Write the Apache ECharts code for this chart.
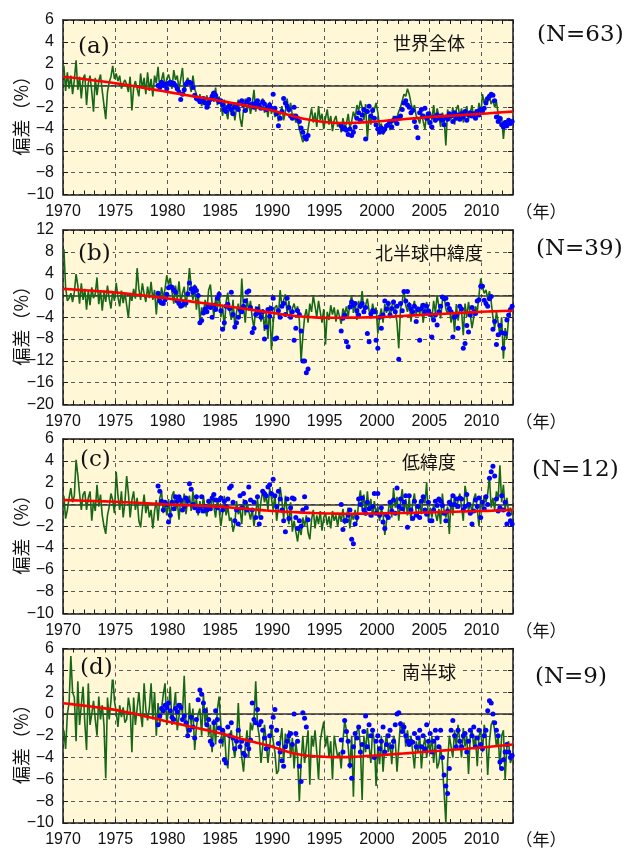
<!DOCTYPE html>
<html>
<head>
<meta charset="utf-8">
<script src="https://cdn.jsdelivr.net/npm/echarts@6/dist/echarts.min.js"></script>
<style>html,body{margin:0;padding:0;background:#fff}#chart{width:625px;height:848px}</style>
</head>
<body>
<div id="chart"></div>
<script>
// ---------------- data ----------------
const xTickLabels = [1970, 1975, 1980, 1985, 1990, 1995, 2000, 2005, 2010];
const panelLetters = ['(a)', '(b)', '(c)', '(d)'];
const regionNames = ['世界全体', '北半球中緯度', '低緯度', '南半球'];
const stationCounts = ['(N=63)', '(N=39)', '(N=12)', '(N=9)'];
const yMinList = [-10, -20, -10, -10];
const yMaxList = [6, 12, 6, 6];
const yStepList = [2, 4, 2, 2];
const groundStartYear = 1970;   // green: ground-based, 6 values per year
const satStartYear = 1979;      // blue: satellite, 6 values per year
const trendStartYear = 1970;    // red: yearly trend

const greenA = [
1.8,-0.5,1.2,-0.3,0.9,-0.8, 0.5,2.3,-0.4,0.8,-1.2,0.6, 1.0,-1.8,0.2,0.9,-0.6,-2.4, 0.7,-0.9,0.4,1.0,-0.5,-1.8,
-3.1,-0.6,0.3,0.8,1.8,0.6, 1.1,0.4,0.9,-0.3,0.2,0.5, 0.1,-0.6,0.8,-2.3,-0.2,0.4, 0.3,-1.0,1.1,-0.3,0.7,-0.8,
1.2,-0.5,0.6,-1.0,0.9,0.2, 1.7,-0.4,0.5,1.2,-0.2,0.6, 1.0,0.4,-0.3,1.4,0.5,0.9, -0.4,0.6,1.6,-0.8,0.3,0.7,
0.2,-0.6,0.9,-0.3,-0.8,-1.4, -0.8,-1.9,-1.2,-1.6,-0.9,-2.1, -1.2,-0.6,-1.5,-0.2,-1.8,-1.0, -1.6,-2.8,-1.3,-2.4,-3.1,-1.5,
-2.7,-1.6,-3.2,-2.0,-1.3,-3.0, -3.8,-2.2,-1.2,-2.4,-1.5,-2.6, -1.7,-0.4,-2.4,-1.3,-2.2,-1.6, -1.2,-2.5,-1.8,-2.9,-1.5,-2.6,
-2.0,-2.9,-2.3,-3.3,-2.6,-1.9, -3.2,-2.4,-1.2,-2.5,-1.6,-2.8, -2.6,-3.4,-3.1,-4.0,-4.6,-5.2, -4.8,-5.1,-4.0,-3.0,-2.1,-3.4,
-2.5,-3.8,-1.9,-3.2,-2.6,-4.0, -3.0,-2.2,-3.6,-2.8,-4.2,-3.2, -2.8,-3.8,-3.4,-4.3,-3.0,-3.9, -3.5,-2.6,-3.9,-3.3,-2.4,-3.0,
-1.8,-2.3,-1.4,-2.0,-3.2,-1.7, -5.0,-2.7,-3.6,-2.0,-2.2,-1.6, -2.5,-3.8,-3.5,-4.5,-4.2,-3.8, -3.2,-4.1,-3.5,-2.8,-3.6,-2.9,
-2.4,-2.0,-1.4,-0.8,-1.0,-0.3, -0.8,-1.6,-2.3,-1.8,-2.8,-3.0, -3.5,-2.4,-3.3,-4.0,-2.5,-3.6, -2.4,-3.2,-1.8,-3.4,-2.1,-2.8,
-3.8,-2.5,-3.0,-5.5,-2.2,-3.2, -3.0,-2.0,-3.6,-2.2,-1.8,-2.9, -2.1,-3.4,-2.6,-1.9,-3.1,-2.5, -1.8,-3.0,-2.2,-2.9,-1.6,-2.7,
-0.8,-1.6,-1.1,-1.5,-1.0,-1.7, -1.3,-2.0,-1.5,-2.6,-3.4,-2.9, -4.9,-3.2,-3.9,-3.0,-3.6,-3.3
];
const blueA = [
0.0,-0.2,0.3,0.0,0.1,-0.3, 0.2,0.3,0.1,0.2,0.0,-0.3, -0.6,-1.3,-0.8,-0.4,0.1,0.3, 0.3,0.2,-0.2,-0.9,-1.2,-1.3,
-1.5,-1.4,-1.2,-1.6,-2.0,-1.6, -1.3,-1.0,-0.7,-0.9,-1.3,-1.5, -1.4,-1.8,-2.2,-2.4,-2.0,-1.8, -2.2,-2.6,-2.0,-1.8,-2.2,-1.6,
-1.4,-1.8,-2.3,-1.5,-1.3,-1.8, -1.7,-2.0,-1.6,-1.4,-1.8,-2.1, -1.5,-1.7,-2.2,-2.0,-1.8,-2.1, -0.8,-2.1,-2.6,-3.7,-3.0,-2.4,
-1.2,-1.6,-1.9,-2.2,-2.8,-3.0, -2.0,-2.8,-3.0,-3.3,-3.9,-4.3, -4.7,-4.9,-4.6,null,null,null,
null,null,null,null,null,null, null,null,null,null,null,null, null,null,null,-3.7,-4.0,-3.9,
-4.1,-4.5,-4.0,-4.6,-4.3,-3.8, -3.0,-2.5,-3.2,-2.7,-2.2,-4.9, -2.4,-1.9,-2.8,-2.3,-3.0,-3.6, -4.0,-4.3,-3.9,-4.2,-4.0,-3.7,
-3.6,-3.3,-3.8,-3.2,-3.0,-3.5, -3.0,-2.8,-2.2,-1.6,-1.4,-1.8, -2.0,-2.5,-2.3,-3.3,-3.8,-4.8, -2.5,-2.2,-2.8,-2.1,-3.0,-2.6,
-3.4,-3.8,-2.9,-3.2,-2.7,-3.0, -2.8,-3.2,-3.6,-2.9,-3.1,-2.6, -2.8,-3.3,-2.5,-3.0,-2.7,-3.1, -2.6,-2.9,-2.4,-3.2,-2.7,-2.5,
-2.8,-2.6,-3.0,-2.4,-2.7,-2.2, -2.4,-2.1,-1.6,-1.2,-1.0,-0.8, -0.9,-1.4,-2.9,-3.3,-3.0,-3.6, -3.8,-3.4,-3.7,-3.2,-3.5,-3.3
];
const trendA = [0.80,0.70,0.58,0.46,0.34,0.20,0.05,-0.10,-0.27,-0.43,-0.60,-0.76,-0.92,-1.08,-1.24,-1.40,-1.58,-1.76,-1.94,-2.12,
-2.30,-2.56,-2.82,-3.05,-3.22,-3.35,-3.43,-3.45,-3.42,-3.36,-3.30,-3.22,-3.14,-3.06,-2.98,-2.90,-2.84,-2.78,-2.72,-2.66,-2.60,-2.53,-2.46,-2.40];

const greenB = [
8.5,1.5,-1.0,-0.5,0.4,-1.2, 0.6,3.9,1.8,-1.5,2.2,-0.8, 1.2,-2.6,0.9,-1.8,1.5,-0.5, 0.3,3.3,-1.6,1.0,-2.8,0.6,
-1.2,1.8,-0.6,-2.4,0.8,-1.0, 2.3,-0.3,-2.0,0.9,-1.4,0.5, -1.8,-4.1,0.2,-1.0,1.2,-0.6, 5.0,1.2,-0.8,2.2,0.3,-1.2,
1.6,-0.5,2.5,-0.8,1.0,-3.5, 0.8,-1.6,1.5,-0.4,1.2,3.7, 2.0,3.2,0.6,-1.5,1.8,-0.6, 2.6,-1.2,0.4,1.6,-2.2,1.0,
5.0,1.5,-0.8,2.0,-2.6,0.5, -4.8,-2.2,-3.5,-0.8,-2.8,1.0, 2.0,-1.5,-3.8,-0.6,-2.4,0.8, -4.0,-2.0,-6.0,-1.2,0.5,-2.8,
-4.5,-0.8,-5.8,-3.0,-1.5,-4.2, 3.1,-2.2,-5.0,-0.5,-2.8,-1.0, -4.2,-6.0,-2.0,-3.5,-1.6,-4.8, -2.5,-6.5,-3.0,-8.0,-1.8,-10.0,
-5.0,-2.2,-1.8,-3.8,1.0,-2.0, -2.0,0.2,-3.5,-1.0,-4.2,-2.4, -1.5,-3.0,-2.0,-4.5,-12.0,-7.5, -4.0,-2.5,-5.0,-1.5,-3.0,0.0,
-2.0,-4.0,-1.0,-3.0,-5.0,-2.5, -9.0,-3.0,-4.5,-1.8,-3.5,-2.2, -4.8,-2.6,-3.8,-5.2,-2.4,-3.4, -2.0,-4.0,-1.5,0.0,-3.2,-1.2,
-4.5,-1.0,-2.5,0.8,-3.0,-1.8, -0.6,-2.8,-4.2,-1.5,-3.0,-2.2, -7.0,-4.0,-2.4,-5.0,-1.6,-3.2, -1.0,-4.2,-2.0,-0.8,-2.8,-5.0,
-9.7,-2.5,-1.0,0.8,-1.8,-3.0, -1.2,-4.8,-2.2,-1.0,-3.6,-2.0, -3.5,-1.5,-5.0,-2.4,-1.2,-3.8, -2.6,-4.5,-1.0,-3.2,0.0,-2.0,
-4.2,-1.0,0.0,-2.5,-3.4,-2.0, -5.0,-3.0,-6.7,-1.6,-4.6,-2.4, -2.8,-7.3,-1.5,-4.0,-1.2,-3.5, -6.0,-4.0,-2.0,-3.0,0.0,3.1,
1.5,0.4,1.0,-0.6,0.8,-1.2, -4.0,-6.0,-3.0,-5.0,-7.5,-4.0, -11.6,-6.0,-8.0,-4.0,-3.0,-2.0
];
const blueB = [
0.4,-1.0,-1.4,-1.5,-0.8,0.2, 1.4,1.6,1.5,1.0,0.6,-1.0, -1.5,-2.0,-1.8,-1.2,-1.4,0.3, 2.3,1.2,0.6,1.4,0.9,0.0,
-5.0,-4.6,-3.2,-2.5,-3.0,-2.0, -2.2,-4.0,-1.8,-2.6,-0.5,0.2, -2.8,-6.2,-5.0,-2.0,-1.6,-2.4, 0.6,-3.5,-5.8,-5.0,-4.0,-2.6,
-3.0,-2.0,-1.0,0.6,0.8,-2.2, -6.8,-6.0,-3.5,-2.5,-3.2,-4.0, -3.0,-8.0,-5.8,-2.6,-3.8,-2.4, -0.5,-8.0,-7.8,-2.8,-4.0,-2.0,
-1.5,-3.5,-0.5,-2.2,-4.0,-3.0, -8.2,-6.0,-2.8,-3.5,-6.5,-12.0, -12.0,-14.2,-13.5,null,null,null,
null,null,null,null,null,null, null,null,null,null,null,null, null,null,null,-6.5,-4.2,-3.6,
-8.5,-9.4,-2.1,-1.2,-1.8,-1.5, -2.8,-3.6,-2.0,-1.5,-3.0,-2.2, -7.0,-8.5,-3.4,-2.8,-3.0,-8.2, -9.7,-4.0,-6.0,-3.6,-1.0,-2.5,
-1.5,-3.6,-2.4,-1.2,-3.0,-2.0, -11.7,-1.5,-2.8,0.7,-1.0,0.7, -1.8,-2.5,-3.0,-2.0,-4.8,-2.6, -8.2,-2.4,-1.8,-3.0,-2.0,-2.8,
-3.5,-7.6,-4.5,-3.6,-5.4,-3.0, -2.0,-0.3,-0.6,-0.5,-1.6,-2.4, -3.0,-7.6,-4.0,-3.6,-6.0,-2.0, -2.5,-9.7,-8.8,-5.5,-6.7,-3.6,
-2.2,-3.0,-3.3,-1.0,-0.8,1.7, 1.7,-0.9,-1.5,-2.0,-0.6,-0.2, -6.2,-4.8,-9.0,-7.2,-5.5,-6.8, -9.7,-7.0,-4.5,-3.6,-2.6,-2.0
];
const trendB = [1.20,1.08,0.96,0.83,0.70,0.55,0.35,0.14,-0.08,-0.31,-0.55,-0.80,-1.05,-1.30,-1.55,-1.80,-2.08,-2.36,-2.64,-2.92,
-3.20,-3.48,-3.72,-3.90,-4.02,-4.08,-4.10,-4.09,-4.06,-4.03,-4.00,-3.91,-3.81,-3.71,-3.61,-3.50,-3.40,-3.30,-3.20,-3.10,-3.00,-2.93,-2.86,-2.80];

const greenC = [
0.8,-1.3,-0.5,0.6,1.5,0.2, 0.8,4.1,2.7,1.0,-0.5,0.9, 1.2,-0.5,0.6,1.2,-1.5,0.3, -0.6,1.8,-0.2,0.9,-1.0,-2.0,
-2.7,-1.0,-0.2,1.0,0.4,-0.8, 3.0,0.8,-0.5,1.2,-1.2,0.2, 2.6,1.0,-1.2,0.4,1.2,-0.5, 0.6,-1.5,-2.1,-0.4,0.9,-0.8,
0.2,-1.2,-0.5,-2.2,-0.6,0.4, -1.5,0.6,1.2,-0.8,0.3,-1.0, 0.5,-1.5,0.8,1.2,-0.6,0.3, -1.4,0.6,-0.2,1.0,-0.9,0.4,
0.8,-0.6,1.2,-0.3,0.5,-1.0, 0.3,-0.8,0.8,-0.5,-1.1,0.4, -0.6,0.9,-0.2,-1.2,0.5,-0.4, -2.0,-0.8,0.8,-1.0,-0.2,-1.5,
-1.2,-2.5,-1.8,0.3,-0.9,-0.4, -1.8,0.5,-1.0,0.2,-0.6,-1.4, -0.4,-2.0,-0.8,0.5,-1.2,0.3, 1.3,0.2,0.8,-0.5,1.5,0.6,
-0.5,0.9,-1.5,-0.2,1.6,0.4, -1.3,0.8,-0.6,-1.8,0.2,-2.5, -1.5,-2.5,-3.4,-2.0,-2.8,-1.2, -2.0,-1.0,-2.6,-3.2,-1.4,-0.5,
-2.2,-1.0,-1.8,-0.6,-2.4,-1.2, -0.8,-1.9,-1.1,-2.2,-0.6,-1.5, -1.0,-2.0,-0.8,-1.6,-0.4,-1.8, -1.2,-0.3,-2.2,-0.9,-1.4,-0.5,
-1.6,0.2,1.3,-0.4,0.9,-1.0, 1.2,-0.6,0.5,-1.2,0.3,-0.8, -0.2,-1.5,-0.4,-0.9,-2.8,-1.5, -0.6,0.4,-1.2,1.5,-0.3,0.7,
-1.5,0.2,1.4,-0.8,0.5,-1.0, 0.6,-1.5,0.2,1.0,-0.7,-1.2, 0.3,-0.9,0.8,0.1,2.0,-1.5, -0.3,-1.2,0.0,-0.8,-1.5,-0.4,
-1.8,1.0,-0.6,-1.2,-0.2,-2.7, 0.6,-1.0,0.9,-0.4,0.3,1.0, -0.2,-1.5,1.7,0.8,-0.6,0.2, -0.8,0.5,1.0,-0.4,-2.0,0.6,
-0.5,0.8,0.2,1.0,2.5,-0.3, 0.6,-0.5,1.2,0.5,3.6,0.2, 1.8,-0.5,0.6,-0.8,-0.3,-1.0
];
const blueC = [
1.7,1.2,0.3,-0.5,0.2,0.0, -1.6,-1.0,0.2,-0.4,0.7,0.3, 0.7,0.4,-0.5,-0.2,0.6,0.3, 1.9,1.4,0.0,-0.3,0.7,-0.6,
-0.3,0.7,-0.6,-0.2,-0.5,0.3, -0.4,0.6,0.9,0.4,-0.3,0.4, 0.6,-0.5,0.3,-0.2,0.5,1.5, 1.7,0.2,-1.5,-0.5,-1.8,0.8,
-0.3,1.0,0.2,-0.5,1.6,0.4, -0.5,0.2,-1.2,0.7,-1.8,-1.2, 1.2,1.0,0.8,1.6,1.8,1.0, 2.3,0.8,-0.2,1.2,0.5,-0.5,
-1.5,-2.5,0.5,-1.3,-0.3,0.6, 0.5,-1.2,-2.2,-1.5,-2.0,-0.5, 0.7,-0.3,-1.4,null,null,null,
null,null,null,null,null,null, null,null,null,null,null,null, null,null,null,0.0,-2.3,-1.5,
-1.5,-1.0,-0.5,-3.2,-3.6,-1.8, -1.2,0.5,0.0,0.6,-0.5,-0.8, 0.2,-0.4,-1.0,-0.2,1.0,-0.8, 1.0,-1.0,-0.3,-1.6,-2.2,-1.0,
-1.2,0.2,-0.6,0.4,-0.8,1.5, -0.2,0.5,-0.4,0.2,0.8,-2.1, 0.8,-0.5,-1.3,0.3,-1.0,-0.2, -1.2,0.3,0.7,-0.5,-0.9,0.2,
-1.5,-1.5,-0.5,0.3,-0.1,0.5, 0.3,-0.1,-0.8,-1.5,-0.6,0.2, 0.0,0.8,0.0,0.5,-0.2,0.6, 0.5,-0.5,-0.2,0.9,0.0,-0.8,
-1.8,-0.6,0.4,-0.2,0.6,-1.2, 0.2,-0.4,0.7,0.0,2.4,3.0, 3.5,2.6,0.5,-0.6,-0.3,0.8, -0.5,0.2,-1.8,-0.9,-1.5,-1.8
];
const trendC = [0.40,0.37,0.34,0.31,0.28,0.25,0.20,0.15,0.10,0.05,0.00,-0.04,-0.08,-0.12,-0.16,-0.20,-0.28,-0.36,-0.44,-0.52,
-0.60,-0.66,-0.70,-0.75,-0.79,-0.82,-0.84,-0.85,-0.85,-0.84,-0.83,-0.81,-0.79,-0.77,-0.75,-0.73,-0.70,-0.68,-0.65,-0.63,-0.60,-0.57,-0.53,-0.50];

const greenD = [
-1.5,-3.2,0.0,1.0,5.3,2.0, 1.5,-2.5,3.0,-1.0,0.8,2.5, -0.8,-3.3,2.8,-1.0,0.0,1.2, -0.5,-2.0,1.6,-0.5,0.8,-1.0,
-5.9,1.5,-0.5,1.2,3.6,1.2, 0.2,-1.2,0.8,-0.3,0.6,-0.8, -0.5,1.5,0.5,-3.5,1.5,-1.0, 0.5,2.0,0.0,-1.2,2.8,0.4,
-0.6,0.5,2.8,-0.5,2.0,-2.0, 1.0,-1.0,0.5,1.8,2.8,-1.0, 0.5,2.5,-1.0,0.5,2.0,-1.5, -1.5,1.0,0.0,3.5,-1.0,-2.0,
1.0,-1.0,0.5,-3.3,-1.2,0.0, 0.5,-2.0,1.8,-1.0,0.6,-2.0, -1.0,-3.5,-0.5,-2.8,0.4,1.6, -1.0,-3.0,-1.5,-4.0,-5.0,-2.0,
-1.5,-3.0,-4.0,-2.5,1.0,-2.5, -4.0,-5.3,-3.0,-1.5,-4.0,-0.8, -1.5,-0.5,3.0,-1.0,-2.0,-4.5, -3.0,-1.0,-2.5,-4.5,-3.0,-1.2,
-2.5,-3.5,-5.5,-5.2,-2.5,-1.3, -4.5,-1.8,-3.0,-1.5,-4.0,-2.2, -5.0,-2.6,-4.0,-8.0,-4.5,-2.0, -4.5,-3.0,-1.5,-6.5,-2.0,-3.0,
-1.5,-3.5,-6.0,-2.5,-1.5,-0.7, -3.0,-2.0,-4.0,-2.5,-6.0,-2.0, -2.0,-4.0,-3.5,-5.0,-2.5,-0.6, -1.5,-3.0,-5.0,-2.0,-7.6,-2.0,
-2.0,-1.2,-3.0,-7.9,-2.0,-3.5, -1.3,-3.0,-4.5,-1.5,-2.5,-6.6, -3.0,-4.6,-2.0,-5.3,-3.0,-1.8, -3.5,-2.6,-4.6,-2.0,-2.5,-5.3,
-3.0,-0.7,-1.5,-0.8,-3.0,-1.5, -3.0,-2.0,-3.5,-5.0,-2.5,-3.5, -2.0,-5.0,-3.0,-2.2,-4.0,-2.5, -3.5,-2.0,-4.5,-2.5,-5.0,-4.5,
-3.0,-4.5,-4.5,-10.0,-4.5,-2.0, -2.0,-4.0,-1.5,-3.0,-1.0,-2.5, -4.0,-1.3,-3.0,-2.0,-5.5,-2.0, -1.5,-3.0,-2.0,-4.8,-2.0,-1.5,
-3.5,-1.0,-2.0,-5.6,-2.5,-1.0, -0.6,-1.5,-3.0,-2.0,-5.0,-2.0, -1.5,-6.0,-3.0,-2.5,-4.5,-4.0
];
const blueD = [
-1.0,-0.2,0.5,0.3,0.8,0.6, 1.0,0.3,-0.3,-0.5,0.5,0.2, 0.8,0.6,-0.5,-0.2,-0.8,-2.0, -1.5,-0.3,-1.2,-2.2,-0.5,1.3,
2.2,1.8,1.0,0.3,-1.0,-0.5, -2.5,-2.8,-0.8,0.3,-0.5,-1.3, -2.5,-1.5,-4.2,-4.5,-1.2,-2.0, -0.8,-2.2,-3.2,-2.5,-1.5,-3.0,
-2.5,-3.6,-3.8,-2.8,-3.2,-2.4, 1.0,-0.5,-0.8,0.4,-1.0,-0.7, -1.5,-2.2,-3.2,-3.0,-2.0,-1.2, -0.3,0.4,-1.5,-2.7,-3.5,-4.3,
-4.8,-3.0,-2.5,-2.0,-1.8,-2.8, 0.0,-1.8,-2.5,-4.8,-6.2,0.1, -0.4,-1.2,null,null,null,null,
null,null,null,null,null,null, null,null,null,null,null,null, null,null,null,-2.4,-3.5,-0.6,
-1.6,-2.5,-4.7,-5.9,-3.0,-1.8, -2.2,-1.2,-3.5,-2.8,-1.6,-0.2, -3.0,-1.0,-2.0,-1.5,-4.0,-2.5, -2.0,-3.2,-2.5,-1.2,-3.5,-2.8,
-2.0,-1.5,-3.0,-2.5,-1.0,0.0, 0.1,-0.9,-1.6,-1.2,-2.0,-2.5, -2.8,-2.5,-2.6,-1.8,-3.0,-2.2, -1.5,-3.0,-2.0,-3.2,-1.0,-2.5,
-1.8,-3.5,-2.5,-1.5,-2.2,-3.0, -1.5,-4.0,-5.6,-6.6,-7.3,-5.0, -1.5,-0.6,-2.0,-3.0,-1.5,-2.5, -3.0,-2.0,-1.8,-3.5,-2.5,-1.5,
-2.0,-1.2,-3.0,-2.2,-1.5,-2.8, -3.2,-2.0,-1.5,0.3,1.2,1.0, 0.0,-0.8,-1.5,-2.0,-4.4,-5.0, -4.2,-3.5,-2.8,-3.5,-4.0,-3.8
];
const trendD = [0.98,0.88,0.76,0.64,0.51,0.37,0.18,-0.03,-0.25,-0.47,-0.70,-0.91,-1.12,-1.33,-1.55,-1.77,-2.02,-2.27,-2.51,-2.76,
-3.00,-3.32,-3.60,-3.78,-3.88,-3.93,-3.96,-3.96,-3.92,-3.86,-3.80,-3.73,-3.66,-3.59,-3.52,-3.45,-3.38,-3.30,-3.23,-3.15,-3.08,-2.99,-2.90,-2.80];

const greens = [greenA, greenB, greenC, greenD];
const blues = [blueA, blueB, blueC, blueD];
const trends = [trendA, trendB, trendC, trendD];

// ---------------- layout & style ----------------
const PLOT_LEFT = 63, PLOT_W = 450, PLOT_H = 174.5;
const TOPS = [20, 230, 439, 648.5];
const LETTER_POS = [[76, 47.5], [76, 254], [78, 460], [78, 668]];
const N_POS = [[537, 35], [536, 249], [532, 470], [535, 677.5]];
const BG = '#fff7d5';
const GREEN = '#176717', BLUE = '#0000ff', RED = '#ff0000';
const AX = '#1a1a1a';
const GRIDC = '#5a5a5a';
const SANS = '"Liberation Sans", Arial, sans-serif';
const CJK = '"Noto Sans CJK JP", sans-serif';
const SERIF = '"DejaVu Serif", serif';

function sixPerYear(start, arr) {
  const out = [];
  arr.forEach((v, i) => { if (v !== null) out.push([start + (i + 0.5) / 6, v]); });
  return out;
}
function yearly(start, arr) { return arr.map((v, i) => [start + i, v]); }
const minusFmt = v => (v < 0 ? '\u2212' : '') + Math.abs(v);

const grid = [], xAxis = [], yAxis = [], series = [], graphic = [];
for (let p = 0; p < 4; p++) {
  grid.push({ left: PLOT_LEFT, top: TOPS[p], width: PLOT_W, height: PLOT_H, show: true,
              backgroundColor: BG, borderWidth: 0, containLabel: false });
  const baseX = { gridIndex: p, type: 'value', min: 1970, max: 2013 };
  xAxis.push(Object.assign({}, baseX, {
    position: 'bottom', interval: 1,
    axisLine: { show: true, onZero: false, lineStyle: { color: AX, width: 1.5 } },
    axisTick: { show: true, inside: true, length: 4, lineStyle: { color: AX, width: 1 } },
    axisLabel: { show: true, margin: 9, fontSize: 16, color: '#111', fontFamily: SANS,
                 formatter: v => xTickLabels.includes(v) ? String(v) : '' },
    splitLine: { show: false }
  }));
  xAxis.push(Object.assign({}, baseX, {
    position: 'top', interval: 1,
    axisLine: { show: true, onZero: false, lineStyle: { color: AX, width: 1.5 } },
    axisTick: { show: true, inside: true, length: 4, lineStyle: { color: AX, width: 1 } },
    axisLabel: { show: false }, splitLine: { show: false }
  }));
  xAxis.push(Object.assign({}, baseX, {
    position: 'bottom', interval: 5,
    axisLine: { show: false }, axisTick: { show: false }, axisLabel: { show: false },
    splitLine: { show: true, lineStyle: { color: GRIDC, type: [4, 4], width: 1 } }
  }));
  const baseY = { gridIndex: p, type: 'value', min: yMinList[p], max: yMaxList[p], interval: yStepList[p] };
  yAxis.push(Object.assign({}, baseY, {
    position: 'left',
    axisLine: { show: true, onZero: false, lineStyle: { color: AX, width: 1.5 } },
    axisTick: { show: true, inside: true, length: 5, lineStyle: { color: AX, width: 1 } },
    axisLabel: { show: true, margin: 9, fontSize: 16, color: '#111', fontFamily: SANS, formatter: minusFmt },
    splitLine: { show: true, lineStyle: { color: GRIDC, type: [4, 4], width: 1 } }
  }));
  yAxis.push(Object.assign({}, baseY, {
    position: 'right',
    axisLine: { show: true, onZero: false, lineStyle: { color: AX, width: 1.5 } },
    axisTick: { show: true, inside: true, length: 5, lineStyle: { color: AX, width: 1 } },
    axisLabel: { show: false }, splitLine: { show: false }
  }));

  series.push({
    type: 'line', xAxisIndex: p * 3, yAxisIndex: p * 2, data: sixPerYear(groundStartYear, greens[p]),
    showSymbol: false, lineStyle: { color: GREEN, width: 1.6 }, itemStyle: { color: GREEN }, z: 2,
    markLine: { silent: true, symbol: ['none', 'none'], label: { show: false }, z: 1,
                lineStyle: { color: '#333', type: 'solid', width: 1.5 }, data: [{ yAxis: 0 }] }
  });
  series.push({
    type: 'scatter', xAxisIndex: p * 3, yAxisIndex: p * 2, data: sixPerYear(satStartYear, blues[p]),
    symbolSize: 5, itemStyle: { color: BLUE, opacity: 1 }, z: 3
  });
  series.push({
    type: 'line', xAxisIndex: p * 3, yAxisIndex: p * 2, data: yearly(trendStartYear, trends[p]),
    smooth: true, showSymbol: false, lineStyle: { color: RED, width: 2.6 }, itemStyle: { color: RED }, z: 4
  });

  const top = TOPS[p], bottom = TOPS[p] + PLOT_H;
  graphic.push({ type: 'text', x: LETTER_POS[p][0], y: LETTER_POS[p][1], z: 100,
    style: { text: panelLetters[p], font: '23px ' + SERIF, fill: '#111', textAlign: 'left', textVerticalAlign: 'middle',
             backgroundColor: BG, padding: [0, 2] } });
  graphic.push({ type: 'text', x: 429, y: top + 23.5, z: 100,
    style: { text: regionNames[p], font: '18px ' + CJK, fill: '#111', textAlign: 'center', textVerticalAlign: 'middle',
             backgroundColor: BG, padding: [0, 3] } });
  graphic.push({ type: 'text', x: N_POS[p][0], y: N_POS[p][1], z: 100,
    style: { text: stationCounts[p], font: '23px ' + SERIF, fill: '#111', textAlign: 'left', textVerticalAlign: 'middle' } });
  graphic.push({ type: 'text', x: 541, y: bottom + 17, z: 100,
    style: { text: '（年）', font: '17px ' + CJK, fill: '#111', textAlign: 'center', textVerticalAlign: 'middle' } });
  graphic.push({ type: 'text', x: 21, y: (top + bottom) / 2 + 4, rotation: Math.PI / 2, z: 100,
    style: { text: '偏差（%）', font: '18px ' + CJK, fill: '#111', textAlign: 'center', textVerticalAlign: 'middle' } });
}

const chart = echarts.init(document.getElementById('chart'), null, { renderer: 'canvas' });
chart.setOption({ animation: false, backgroundColor: '#ffffff', grid, xAxis, yAxis, series, graphic });
</script>
</body>
</html>
